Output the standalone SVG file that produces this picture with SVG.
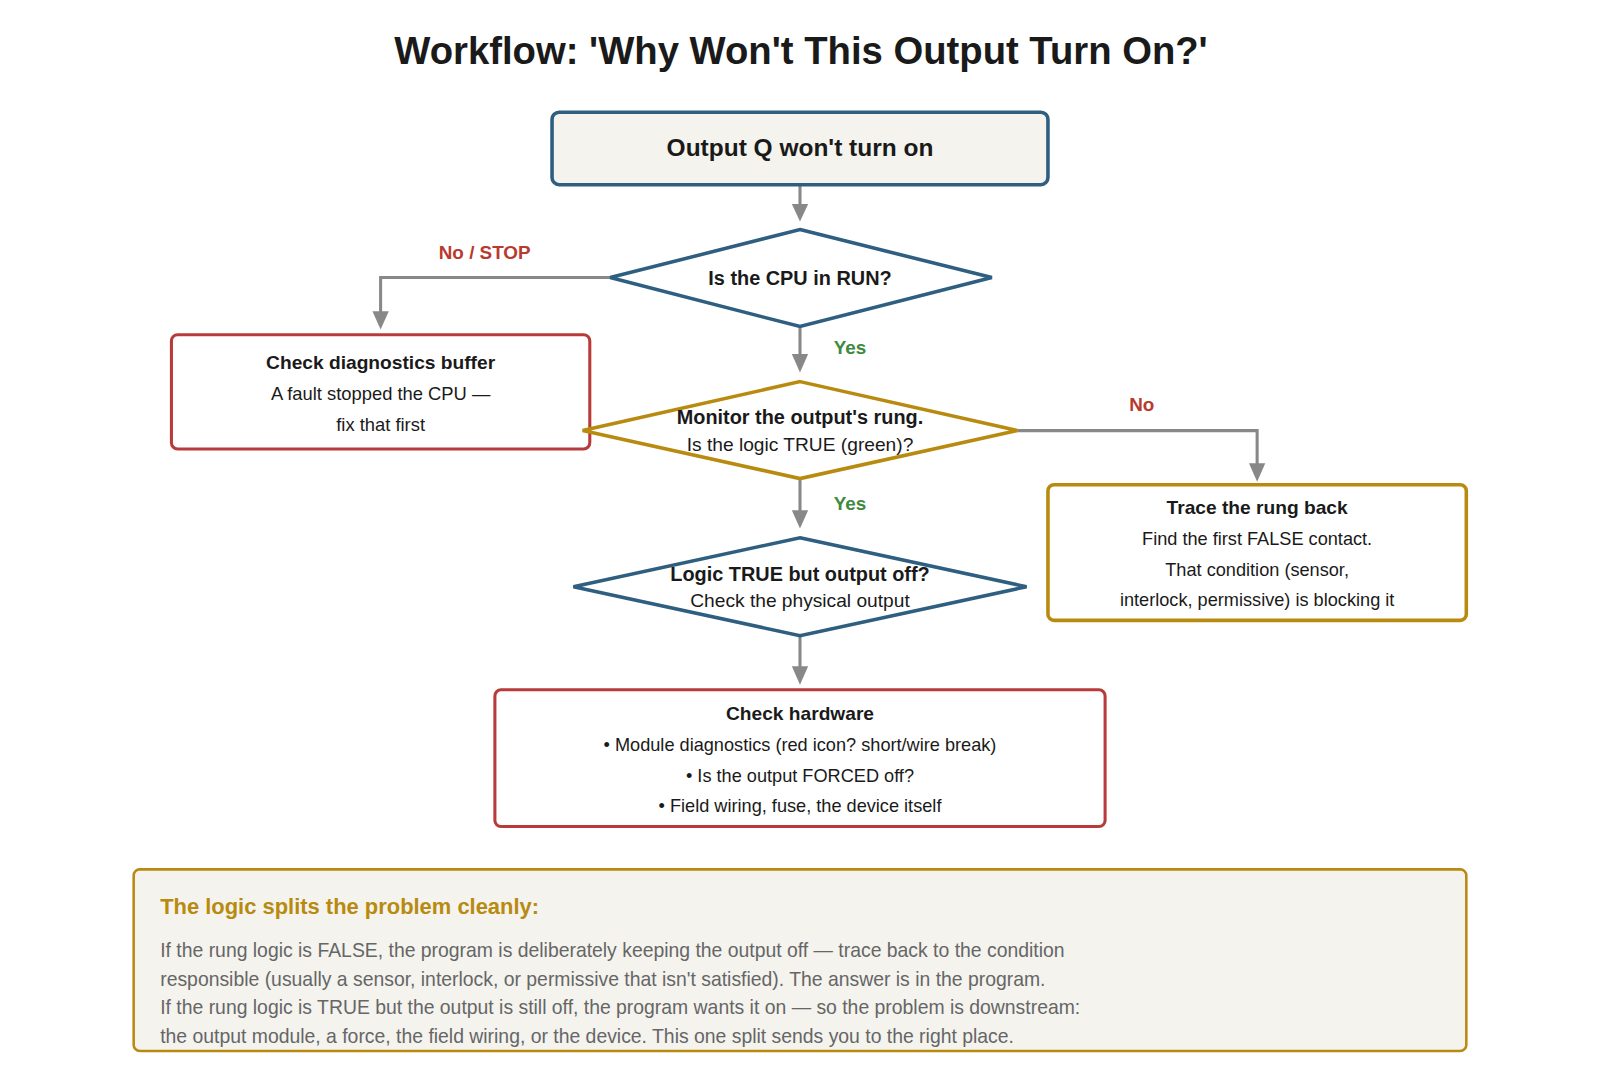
<svg xmlns="http://www.w3.org/2000/svg" width="1600" height="1067" viewBox="0 0 1600 1067">
<defs>
<style>
text{font-family:"Liberation Sans",Arial,sans-serif;fill:#1a1a1a}
.b{font-weight:bold}
.c{text-anchor:middle}
.blue{fill:#fff;stroke:#2e5f80;stroke-width:3.5}
.gold{fill:#fff;stroke:#b88a10;stroke-width:3.5}
.red{fill:#fff;stroke:#b83a3a;stroke-width:3}
.conn{fill:none;stroke:#888;stroke-width:3}
.ah{fill:#888}
.lab{font-weight:bold;font-size:18.5px}
.p{font-size:19px;fill:#666}
</style>
</defs>
<rect width="1600" height="1067" fill="#fff"/>
<g transform="scale(1.0204)">
<text x="785" y="63" class="b c" font-size="37.5">Workflow: 'Why Won't This Output Turn On?'</text>
<g id="connectors">
<path class="conn" d="M784,181 V205"/><path class="ah" d="M776,200 L792,200 L784,217 z"/>
<path class="conn" d="M598,272 H373 V310"/><path class="ah" d="M365,305 L381,305 L373,323 z"/>
<path class="conn" d="M784,320 V352"/><path class="ah" d="M776,347 L792,347 L784,365 z"/>
<path class="conn" d="M997,422 H1232 V458"/><path class="ah" d="M1224,454 L1240,454 L1232,472 z"/>
<path class="conn" d="M784,469 V504"/><path class="ah" d="M776,500 L792,500 L784,518 z"/>
<path class="conn" d="M784,623 V657"/><path class="ah" d="M776,653 L792,653 L784,671 z"/>
<text x="475" y="254" class="lab c" style="fill:#b83a2e">No / STOP</text>
<text x="833" y="347" class="lab c" style="fill:#3f8a3f">Yes</text>
<text x="1119" y="403" class="lab c" style="fill:#b83a2e">No</text>
<text x="833" y="500" class="lab c" style="fill:#3f8a3f">Yes</text>
</g>
<g id="start">
<rect x="541" y="110" width="486" height="71" rx="7" fill="#f4f3ee" stroke="#2e5f80" stroke-width="3.5"/>
<text x="784" y="153" class="b c" font-size="24">Output Q won't turn on</text>
</g>
<g id="cpu">
<polygon class="blue" points="784,225 972,272 784,320 598,272"/>
<text x="784" y="279" class="b c" font-size="19.5">Is the CPU in RUN?</text>
</g>
<g id="diag">
<rect class="red" x="168" y="328" width="410" height="112" rx="6"/>
<text x="373" y="362" class="b c" font-size="18.8">Check diagnostics buffer</text>
<text x="373" y="392" class="c" font-size="18">A fault stopped the CPU —</text>
<text x="373" y="422" class="c" font-size="18">fix that first</text>
</g>
<g id="rung">
<polygon class="gold" points="784,374 997,422 784,469 571,422"/>
<text x="784" y="416" class="b c" font-size="19.5">Monitor the output's rung.</text>
<text x="784" y="442" class="c" font-size="18.8">Is the logic TRUE (green)?</text>
</g>
<g id="trace">
<rect class="gold" x="1027" y="475" width="410" height="133" rx="6" stroke-width="3"/>
<text x="1232" y="504" class="b c" font-size="18.8">Trace the rung back</text>
<text x="1232" y="534" class="c" font-size="17.8">Find the first FALSE contact.</text>
<text x="1232" y="564" class="c" font-size="17.8">That condition (sensor,</text>
<text x="1232" y="594" class="c" font-size="17.8">interlock, permissive) is blocking it</text>
</g>
<g id="logic">
<polygon class="blue" points="784,527 1006,575 784,623 562,575"/>
<text x="784" y="569" class="b c" font-size="19.5">Logic TRUE but output off?</text>
<text x="784" y="595" class="c" font-size="18.8">Check the physical output</text>
</g>
<g id="hw">
<rect class="red" x="485" y="676" width="598" height="134" rx="6"/>
<text x="784" y="706" class="b c" font-size="18.8">Check hardware</text>
<text x="784" y="736" class="c" font-size="17.8">• Module diagnostics (red icon? short/wire break)</text>
<text x="784" y="766" class="c" font-size="17.8">• Is the output FORCED off?</text>
<text x="784" y="796" class="c" font-size="17.8">• Field wiring, fuse, the device itself</text>
</g>
<g id="note">
<rect x="131" y="852" width="1306" height="178" rx="6" fill="#f4f3ee" stroke="#b88a10" stroke-width="2.5"/>
<text x="157" y="896" class="b" font-size="21.5" style="fill:#b88a10">The logic splits the problem cleanly:</text>
<text x="157" y="938" class="p">If the rung logic is FALSE, the program is deliberately keeping the output off — trace back to the condition</text>
<text x="157" y="966" class="p">responsible (usually a sensor, interlock, or permissive that isn't satisfied). The answer is in the program.</text>
<text x="157" y="994" class="p">If the rung logic is TRUE but the output is still off, the program wants it on — so the problem is downstream:</text>
<text x="157" y="1022" class="p">the output module, a force, the field wiring, or the device. This one split sends you to the right place.</text>
</g>
</g>
</svg>
